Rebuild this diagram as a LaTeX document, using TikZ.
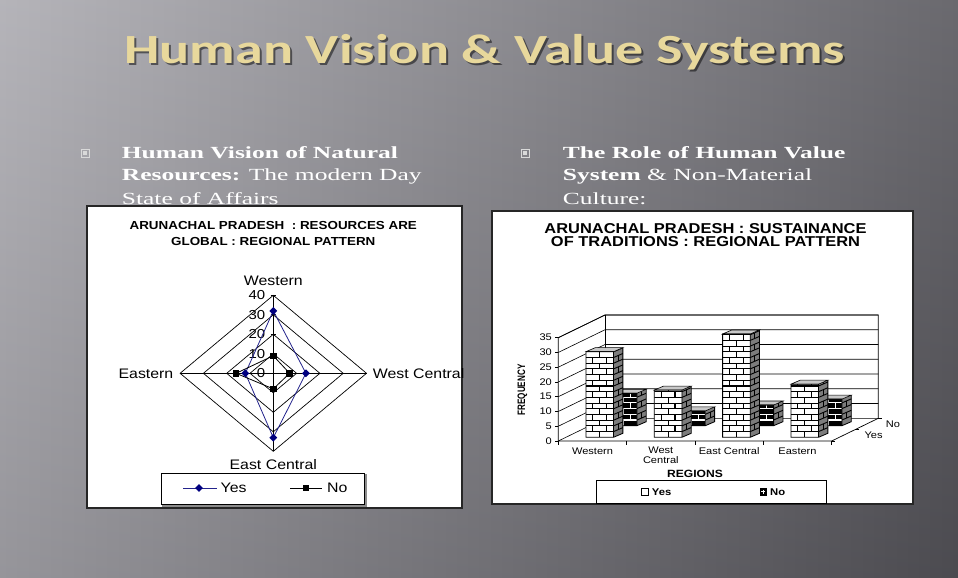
\documentclass[tikz,border=0pt]{standalone}
\usepackage{fontspec}
\setmainfont{Liberation Serif}
\newfontfamily\chartfont[FakeStretch=1.15]{Liberation Sans}
\newfontfamily\condfont[FakeStretch=0.75]{Liberation Sans}
\newfontfamily\slidefont[FakeStretch=1.5]{Liberation Serif}
\newfontfamily\titlefont[FakeStretch=1.35]{Carlito}
\usetikzlibrary{shapes.geometric}
\definecolor{titlegold}{HTML}{E8D89C}
\definecolor{navyline}{HTML}{23238C}
\definecolor{navymark}{HTML}{000080}
\definecolor{sidegray}{HTML}{7C7C7C}
\definecolor{topgray}{HTML}{C8C8C8}
\definecolor{bgleft}{HTML}{ABAAB0}
\definecolor{bgright}{HTML}{56555B}
\newcommand\fs[2]{\fontsize{#1bp}{#2bp}\selectfont}
\newcommand\barw{27.6}
\newcommand\brickh{5.7}
\newcommand\bdx{9.3}
\newcommand\bdy{-4}
\newcommand\brickbar[5]{%
  \pgfmathsetmacro\bxr{#1+\barw}%
  \pgfmathsetmacro\byt{#2-#3}%
  \pgfmathtruncatemacro\nrow{ceil(#3/\brickh)}%
  \begin{scope}
    \clip (#1,#2) rectangle (\bxr,\byt);
    \fill[#4] (#1,#2) rectangle (\bxr,\byt);
    \foreach \k in {1,...,\nrow}{
      \pgfmathsetmacro\ya{#2-\k*\brickh}
      \pgfmathsetmacro\yb{\ya+\brickh}
      \draw[#5, line width=1.1bp] (#1,\ya) -- (\bxr,\ya);
      \ifodd\k\relax
        \draw[#5, line width=1.1bp] ({#1+\barw/2},\ya) -- ({#1+\barw/2},\yb);
      \else
        \draw[#5, line width=1.1bp] ({#1+\barw/4},\ya) -- ({#1+\barw/4},\yb)
          ({#1+3*\barw/4},\ya) -- ({#1+3*\barw/4},\yb);
      \fi
    }
  \end{scope}
  \begin{scope}
    \clip (\bxr,#2) -- ++(\bdx,\bdy) -- ({\bxr+\bdx},{\byt+\bdy}) -- (\bxr,\byt) -- cycle;
    \fill[sidegray] (\bxr,#2) -- ++(\bdx,\bdy) -- ({\bxr+\bdx},{\byt+\bdy}) -- (\bxr,\byt) -- cycle;
    \foreach \k in {1,...,\nrow}{
      \pgfmathsetmacro\ya{#2-\k*\brickh}
      \draw[line width=0.9bp] (\bxr,\ya) -- ++(\bdx,\bdy);
      \ifodd\k\relax\else
        \draw[line width=0.9bp] ({\bxr+\bdx/2},{\ya+\bdy/2}) -- ++(0,\brickh);
      \fi
    }
  \end{scope}
  \filldraw[fill=topgray, line width=0.6bp] (#1,\byt) -- (\bxr,\byt) -- ++(\bdx,\bdy) -- ({#1+\bdx},{\byt+\bdy}) -- cycle;
  \draw[line width=0.8bp] (#1,#2) rectangle (\bxr,\byt) (\bxr,#2) -- ++(\bdx,\bdy) -- ({\bxr+\bdx},{\byt+\bdy});
}
\begin{document}
\begin{tikzpicture}[x=1bp, y=-1bp,
  bodytext/.style={font=\slidefont\fs{17}{19}, text=white, inner sep=0},
  ctitle/.style={font=\chartfont\bfseries, align=center, inner sep=0},
  radarlbl/.style={font=\chartfont\fs{13.8}{15}, inner sep=0},
  ticklbl/.style={font=\chartfont\fs{13}{14}, inner sep=0},
  barlbl/.style={font=\chartfont\fs{9.6}{10}, inner sep=0},
  yesmark/.style={diamond, fill=navymark, inner sep=0, minimum size=8bp},
  nomark/.style={rectangle, fill=black, inner sep=0, minimum size=6.5bp},
  chartbox/.style={draw=black!85, line width=1.3bp, fill=white},
  bulletbox/.style={draw=black!15, line width=0.8bp, inner sep=0, minimum size=8bp}]
\useasboundingbox (0,0) rectangle (958,578);
\shade[left color=bgleft, right color=bgright] (0,0) rectangle (958,578);
\shade[top color=white, bottom color=black, fill opacity=0.12] (0,0) rectangle (958,578);

\node[font=\titlefont\bfseries\fs{41.5}{44}, text=black, opacity=0.5, anchor=base west] at (123,65.5) {Human Vision \& Value Systems};
\node[font=\titlefont\bfseries\fs{41.5}{44}, text=titlegold, anchor=base west] (title) at (121,63.3) {Human Vision \& Value Systems};

\node[bulletbox] (lBul) at (85,153) {};
\fill[black!15] (lBul.center) +(-1.6,-1.6) rectangle +(1.6,1.6);
\node[bulletbox] (rBul) at (525,153) {};
\fill[black!15] (rBul.center) +(-1.6,-1.6) rectangle +(1.6,1.6);
\node[bodytext, anchor=base west] (lTxt1) at (121.7,158.3) {\textbf{Human Vision of Natural}};
\node[bodytext, anchor=base west] (lTxt2) at (121.7,181) {\textbf{Resources:} The modern Day};
\node[bodytext, anchor=base west] (lTxt3) at (121.7,204.3) {State of Affairs};
\node[bodytext, anchor=base west] (rTxt1) at (562.7,158.3) {\textbf{The Role of Human Value}};
\node[bodytext, anchor=base west] (rTxt2) at (562.7,181) {\textbf{System} \& Non-Material};
\node[bodytext, anchor=base west] (rTxt3) at (562.7,204.3) {Culture:};

% radar chart
\draw[chartbox] (87,206) rectangle (462,508);
\node[ctitle, font=\chartfont\bfseries\fs{11.65}{16}] (lTitle) at (273.3,233)
  {ARUNACHAL PRADESH \ : RESOURCES ARE\\GLOBAL : REGIONAL PATTERN};
\begin{scope}[shift={(273.3,373.3)}, x=2.33bp, y=1.95bp]
  \foreach \r in {10,20,30,40}
    \draw[line width=0.7bp] (0,\r) -- (\r,0) -- (0,-\r) -- (-\r,0) -- cycle;
  \draw[line width=0.7bp] (0,-40) -- (0,40) (-40,0) -- (40,0);
  \foreach \r in {0,10,...,40} {
    \draw[line width=0.7bp] (-1.1,\r) -- (1.1,\r);
    \node[ticklbl, anchor=east] at (-3.4,\r) {\r};
  }
  \draw[navyline, line width=0.8bp] (0,32) -- (14,0) -- (0,-33) -- (-12,0) -- cycle;
  \draw[line width=0.8bp] (0,9) -- (7,0) -- (0,-8) -- (-16,0) -- cycle;
  \foreach \p in {(0,32),(14,0),(0,-33),(-12,0)}
    \node[yesmark] at \p {};
  \foreach \p in {(0,9),(7,0),(0,-8),(-16,0)}
    \node[nomark] at \p {};
\end{scope}
\node[radarlbl, anchor=base] (lWest) at (273.3,286) {Western};
\node[radarlbl, anchor=base east] (lEast) at (173.5,378.3) {Eastern};
\node[radarlbl, anchor=base west] (lWC) at (372.7,378.3) {West Central};
\node[radarlbl, anchor=base] (lEC) at (273.3,469.3) {East Central};
\draw[black!45, line width=2bp] (162,506) -- (365.5,506) -- (365.5,474);
\draw[line width=0.8bp, fill=white] (161,473) rectangle (364,504.5);
\draw[navyline, line width=0.9bp] (183,488) -- (217,488);
\node[yesmark] (lgYes) at (199,488) {};
\node[radarlbl, anchor=base west] at (220.5,492.7) {Yes};
\draw[line width=0.9bp] (290,488) -- (322,488);
\node[nomark] (lgNo) at (306,488) {};
\node[radarlbl, anchor=base west] at (327,492.7) {No};

% bar chart
\draw[chartbox] (492,211) rectangle (913,504);
\node[ctitle, font=\chartfont\bfseries\fs{14.3}{13.4}] (rTitle) at (705.5,234.8)
  {ARUNACHAL PRADESH : SUSTAINANCE\\OF TRADITIONS : REGIONAL PATTERN};
\draw[line width=0.7bp] (558.3,441) -- (558.3,337.7) -- (605,315) -- (878.3,315) -- (878.3,418.3);
\draw[line width=0.7bp] (605,315) -- (605,418.3);
\foreach \v in {0,5,...,35} {
  \draw[line width=0.6bp] (558.3,{441-\v*2.952}) -- (605,{418.3-\v*2.952}) -- (878.3,{418.3-\v*2.952});
  \draw[line width=0.6bp] (555,{441-\v*2.952}) -- (558.3,{441-\v*2.952});
  \node[barlbl, anchor=east] at (552,{441-\v*2.952}) {\v};
}
\draw[line width=0.7bp] (558.3,441) -- (831.7,441) -- (878.3,418.3);
\foreach \k in {0,...,4}
  \draw[line width=0.6bp] ({558.3+68.33*\k},441) -- ++(0,3.5);
\draw[line width=0.6bp] (831.7,441) -- ++(3.5,0) (855,429.7) -- ++(3.5,0) (878.3,418.3) -- ++(3.5,0);
\foreach \nv [count=\i from 0] in {11,5,7,9} {
  \pgfmathsetmacro\barl{558.3+68.33*(\i+0.5)+30.7-13.8}
  \pgfmathsetmacro\barh{\nv*2.952}
  \brickbar{\barl}{425.7}{\barh}{black}{white}
}
\foreach \yv [count=\i from 0] in {29,16,35,18} {
  \pgfmathsetmacro\barl{558.3+68.33*(\i+0.5)+7.3-13.8}
  \pgfmathsetmacro\barh{\yv*2.952}
  \brickbar{\barl}{437.3}{\barh}{white}{black}
}
\node[ctitle, font=\condfont\bfseries\fs{10.8}{11}, rotate=90] (freq) at (522.3,390) {FREQUENCY};
\node[barlbl, anchor=base] (cW) at (592.5,454.3) {Western};
\node[barlbl, align=center, font=\chartfont\fs{9.6}{10}] (cWC) at (660.8,455.2) {West\\Central};
\node[barlbl, anchor=base] (cEC) at (729.2,454.3) {East Central};
\node[barlbl, anchor=base] (cE) at (797.5,454.3) {Eastern};
\node[barlbl, anchor=center] (dYes) at (873.5,435) {Yes};
\node[barlbl, anchor=center] (dNo) at (893,424) {No};
\node[ctitle, font=\chartfont\bfseries\fs{10.5}{11}, anchor=base] (regions) at (695,477.7) {REGIONS};
\draw[line width=0.7bp, fill=white] (596.7,480) rectangle (826.7,503.3);
\draw[line width=0.6bp, fill=white] (641.7,488.4) rectangle ++(6.6,6.6);
\node[ctitle, font=\chartfont\bfseries\fs{9.8}{10}, anchor=base west] (lgY) at (651.7,495.3) {Yes};
\draw[line width=0.6bp, fill=black] (760,488.4) rectangle ++(6.6,6.6);
\draw[white, line width=0.8bp] (763.3,489.8) -- (763.3,493.6) (761.2,491.7) -- (765.4,491.7);
\node[ctitle, font=\chartfont\bfseries\fs{9.8}{10}, anchor=base west] (lgN) at (770,495.3) {No};
\end{tikzpicture}
\end{document}
